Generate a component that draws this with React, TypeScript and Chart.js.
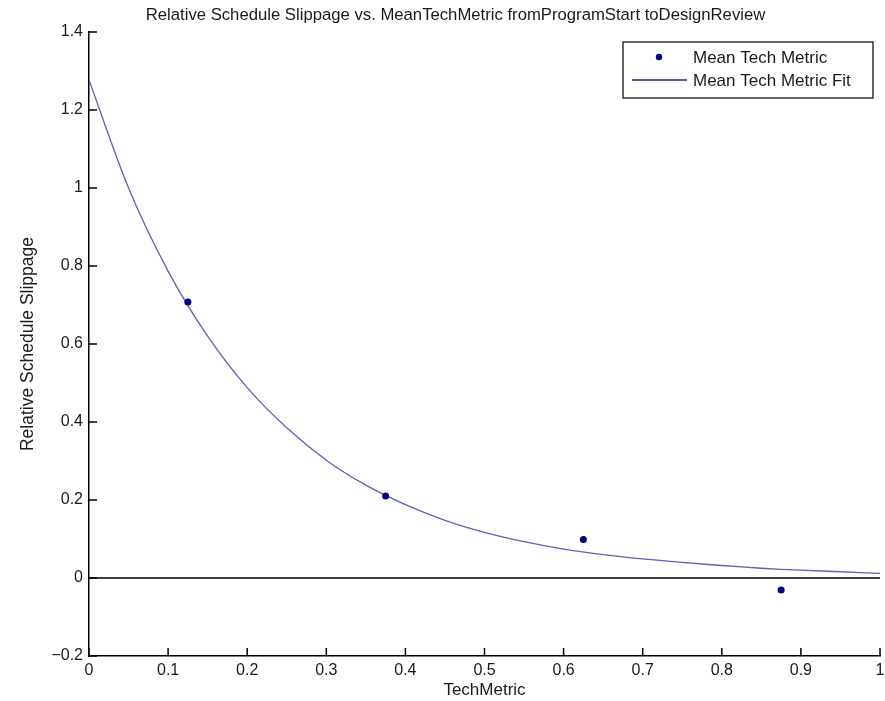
import React, { useEffect, useRef } from "react";
import { Chart, registerables } from "chart.js";

Chart.register(...registerables);

// ---- data ----
const chartTitle = "Relative Schedule Slippage vs. MeanTechMetric fromProgramStart toDesignReview";
const xAxisTitle = "TechMetric";
const yAxisTitle = "Relative Schedule Slippage";

const pointLabel = "Mean Tech Metric";
const pointX = [0.125, 0.375, 0.625, 0.875];
const pointY = [0.708, 0.21, 0.099, -0.031];

const fitLabel = "Mean Tech Metric Fit";
const fitX = [0, 0.05, 0.1, 0.15, 0.2, 0.25, 0.3, 0.35, 0.4, 0.45, 0.5, 0.55, 0.6, 0.65, 0.7, 0.75, 0.8, 0.85, 0.9, 0.95, 1.0];
const fitY = [1.277, 1.0, 0.787, 0.62, 0.488, 0.385, 0.302, 0.238, 0.188, 0.148, 0.117, 0.093, 0.074, 0.06, 0.049, 0.04, 0.032, 0.025, 0.02, 0.016, 0.012];

const zeroLineX = [0, 1];
const zeroLineY = [0, 0];

const xTickValues = [0, 0.1, 0.2, 0.3, 0.4, 0.5, 0.6, 0.7, 0.8, 0.9, 1];
const xTickLabels = ["0", "0.1", "0.2", "0.3", "0.4", "0.5", "0.6", "0.7", "0.8", "0.9", "1"];
const yTickValues = [-0.2, 0, 0.2, 0.4, 0.6, 0.8, 1, 1.2, 1.4];
const yTickLabels = ["\u22120.2", "0", "0.2", "0.4", "0.6", "0.8", "1", "1.2", "1.4"];

const FONT = "'Liberation Sans', Arial, Helvetica, sans-serif";
const TEXT = "#1a1a1a";
const POINT_COLOR = "#000080";
const FIT_COLOR = "#6060b4";

function labelFor(values: number[], labels: string[], v: number) {
  const i = values.findIndex((t) => Math.abs(t - v) < 1e-6);
  return i >= 0 ? labels[i] : "";
}

const titlePlugin = {
  id: "offsetTitle",
  afterDraw(chart: any) {
    const { ctx, chartArea } = chart;
    ctx.save();
    ctx.font = `16.7px ${FONT}`;
    ctx.fillStyle = TEXT;
    ctx.textAlign = "center";
    ctx.textBaseline = "middle";
    ctx.fillText(chartTitle, (chartArea.left + chartArea.right) / 2 - 29, chartArea.top - 17);
    ctx.restore();
  },
};

const insideTicks = {
  id: "insideTicks",
  afterDraw(chart: any) {
    const { ctx, chartArea, scales } = chart;
    ctx.save();
    ctx.strokeStyle = "#000";
    ctx.lineWidth = 1.5;
    const len = 8;
    scales.x.ticks.forEach((t: any) => {
      const px = scales.x.getPixelForValue(t.value);
      ctx.beginPath();
      ctx.moveTo(px, chartArea.bottom);
      ctx.lineTo(px, chartArea.bottom - len);
      ctx.stroke();
    });
    scales.y.ticks.forEach((t: any) => {
      const py = scales.y.getPixelForValue(t.value);
      ctx.beginPath();
      ctx.moveTo(chartArea.left, py);
      ctx.lineTo(chartArea.left + len, py);
      ctx.stroke();
    });
    ctx.restore();
  },
};

const boxLegend = {
  id: "boxLegend",
  afterDraw(chart: any) {
    const { ctx, chartArea } = chart;
    const w = 250;
    const h = 56;
    const right = chartArea.right - 7;
    const left = right - w;
    const top = chartArea.top + 10;
    ctx.save();
    ctx.fillStyle = "#fff";
    ctx.fillRect(left, top, w, h);
    ctx.strokeStyle = "#000";
    ctx.lineWidth = 1.2;
    ctx.strokeRect(left, top, w, h);
    ctx.font = `17px ${FONT}`;
    ctx.fillStyle = TEXT;
    ctx.textBaseline = "middle";
    ctx.textAlign = "left";
    const textX = left + 70;
    const row1 = top + 15;
    const row2 = top + 38;
    ctx.fillStyle = POINT_COLOR;
    ctx.beginPath();
    ctx.arc(left + 36, row1, 3.2, 0, Math.PI * 2);
    ctx.fill();
    ctx.fillStyle = TEXT;
    ctx.fillText(pointLabel, textX, row1 + 1);
    ctx.strokeStyle = "#23237a";
    ctx.lineWidth = 1.5;
    ctx.beginPath();
    ctx.moveTo(left + 9, row2);
    ctx.lineTo(left + 64, row2);
    ctx.stroke();
    ctx.fillText(fitLabel, textX, row2 + 1);
    ctx.restore();
  },
};

export default function App() {
  const ref = useRef<HTMLCanvasElement | null>(null);
  useEffect(() => {
    if (!ref.current) return;
    const chart = new Chart(ref.current, {
      type: "scatter",
      data: {
        datasets: [
          {
            label: "zero",
            data: zeroLineX.map((x, i) => ({ x, y: zeroLineY[i] })),
            showLine: true,
            borderColor: "#000",
            borderWidth: 1.5,
            pointRadius: 0,
            order: 3,
          },
          {
            label: fitLabel,
            data: fitX.map((x, i) => ({ x, y: fitY[i] })),
            showLine: true,
            borderColor: FIT_COLOR,
            borderWidth: 1.3,
            pointRadius: 0,
            tension: 0.3,
            order: 2,
          },
          {
            label: pointLabel,
            data: pointX.map((x, i) => ({ x, y: pointY[i] })),
            showLine: false,
            backgroundColor: POINT_COLOR,
            borderColor: POINT_COLOR,
            pointRadius: 3.5,
            pointBorderWidth: 0,
            order: 1,
          },
        ],
      },
      options: {
        responsive: false,
        animation: false,
        layout: { padding: { left: 0, top: 32, bottom: 0, right: 5 } },
        plugins: {
          legend: { display: false },
          tooltip: { enabled: false },
          title: { display: false },
        },
        scales: {
          x: {
            type: "linear",
            min: 0,
            max: 1,
            afterBuildTicks: (s: any) => {
              s.ticks = xTickValues.map((v) => ({ value: v }));
            },
            afterFit: (s: any) => {
              s.height = 45;
              s.paddingRight = 0;
              s.paddingLeft = 0;
            },
            grid: { display: false, drawTicks: false },
            border: { display: true, color: "#000", width: 1.5 },
            ticks: {
              color: TEXT,
              font: { family: FONT, size: 16 },
              padding: 5,
              maxRotation: 0,
              autoSkip: false,
              callback: (v: any) => labelFor(xTickValues, xTickLabels, Number(v)),
            },
            title: {
              display: true,
              text: xAxisTitle,
              color: TEXT,
              font: { family: FONT, size: 17 },
              padding: { top: 0, bottom: 0 },
            },
          },
          y: {
            type: "linear",
            min: -0.2,
            max: 1.4,
            afterBuildTicks: (s: any) => {
              s.ticks = yTickValues.map((v) => ({ value: v }));
            },
            afterFit: (s: any) => {
              s.width = 89;
              s.paddingTop = 0;
            },
            grid: { display: false, drawTicks: false },
            border: { display: true, color: "#000", width: 1.5 },
            ticks: {
              color: TEXT,
              font: { family: FONT, size: 16 },
              padding: 6,
              autoSkip: false,
              callback: (v: any) => labelFor(yTickValues, yTickLabels, Number(v)),
            },
            title: {
              display: true,
              text: yAxisTitle,
              color: TEXT,
              font: { family: FONT, size: 17.5 },
              padding: { top: 18, bottom: 0 },
            },
          },
        },
      },
      plugins: [insideTicks, boxLegend, titlePlugin],
    } as any);
    return () => chart.destroy();
  }, []);
  return (
    <div style={{ position: "fixed", left: 0, top: 0, width: 885, height: 701, background: "#fff" }}>
      <canvas ref={ref} width={885} height={701} />
    </div>
  );
}
